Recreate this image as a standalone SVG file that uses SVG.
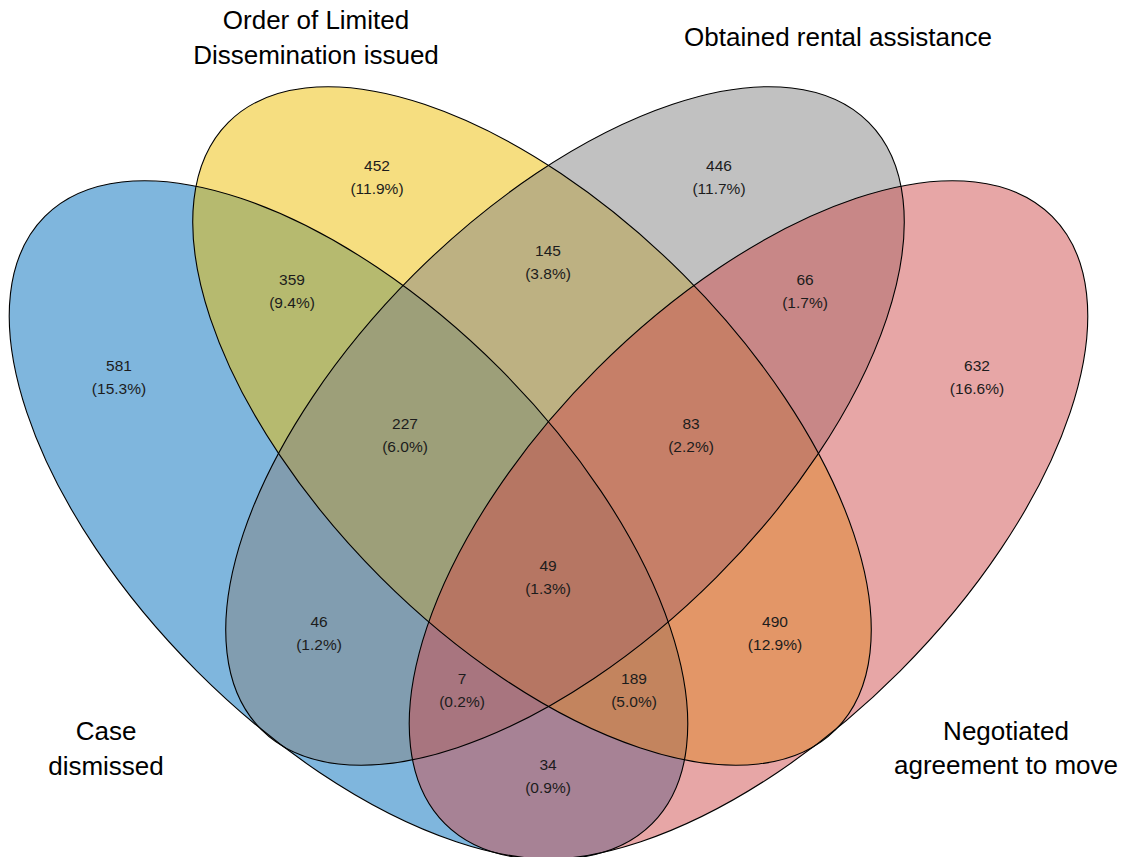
<svg xmlns="http://www.w3.org/2000/svg" width="1129" height="857" viewBox="0 0 1129 857">
<style>
.fill{fill-opacity:0.5;stroke:none}
.edge{fill:none;stroke:#000;stroke-width:1.1}
.t{font-family:"Liberation Sans",Arial,Helvetica,sans-serif;fill:#000;text-anchor:middle}
.lab{font-size:26px}
.num{font-size:15.5px;fill:#1c1c1c}
</style>
<rect width="1129" height="857" fill="#fff"/>
<g id="sets">
<g id="case-dismissed">
<ellipse class="fill" cx="348.5" cy="520" rx="429.4" ry="214" transform="rotate(45 348.5 520)" fill="#006DBB"/>
</g>
<g id="order-limited">
<ellipse class="fill" cx="532" cy="426" rx="429.4" ry="214" transform="rotate(45 532 426)" fill="#EDBD01"/>
</g>
<g id="rental-assistance">
<ellipse class="fill" cx="565" cy="426" rx="429.4" ry="214" transform="rotate(-45 565 426)" fill="#838383"/>
</g>
<g id="negotiated-move">
<ellipse class="fill" cx="748.5" cy="520" rx="429.4" ry="214" transform="rotate(-45 748.5 520)" fill="#CF4D4D"/>
</g>
</g>
<g id="outlines">
<ellipse class="edge" cx="348.5" cy="520" rx="429.4" ry="214" transform="rotate(45 348.5 520)"/>
<ellipse class="edge" cx="532" cy="426" rx="429.4" ry="214" transform="rotate(45 532 426)"/>
<ellipse class="edge" cx="565" cy="426" rx="429.4" ry="214" transform="rotate(-45 565 426)"/>
<ellipse class="edge" cx="748.5" cy="520" rx="429.4" ry="214" transform="rotate(-45 748.5 520)"/>
</g>
<g id="set-labels">
<text class="t lab" x="316" y="29">Order of Limited</text>
<text class="t lab" x="316" y="64">Dissemination issued</text>
<text class="t lab" x="838" y="46">Obtained rental assistance</text>
<text class="t lab" x="106" y="740">Case</text>
<text class="t lab" x="106" y="775">dismissed</text>
<text class="t lab" x="1006" y="740">Negotiated</text>
<text class="t lab" x="1006" y="774">agreement to move</text>
</g>
<g id="counts">
<text class="t num" x="377" y="171">452</text><text class="t num" x="377" y="194">(11.9%)</text>
<text class="t num" x="719" y="171">446</text><text class="t num" x="719" y="194">(11.7%)</text>
<text class="t num" x="292" y="285">359</text><text class="t num" x="292" y="308">(9.4%)</text>
<text class="t num" x="548" y="256">145</text><text class="t num" x="548" y="279">(3.8%)</text>
<text class="t num" x="805" y="285">66</text><text class="t num" x="805" y="308">(1.7%)</text>
<text class="t num" x="119" y="371">581</text><text class="t num" x="119" y="394">(15.3%)</text>
<text class="t num" x="977" y="371">632</text><text class="t num" x="977" y="394">(16.6%)</text>
<text class="t num" x="405" y="429">227</text><text class="t num" x="405" y="452">(6.0%)</text>
<text class="t num" x="691" y="429">83</text><text class="t num" x="691" y="452">(2.2%)</text>
<text class="t num" x="548" y="571">49</text><text class="t num" x="548" y="594">(1.3%)</text>
<text class="t num" x="319" y="627">46</text><text class="t num" x="319" y="650">(1.2%)</text>
<text class="t num" x="775" y="627">490</text><text class="t num" x="775" y="650">(12.9%)</text>
<text class="t num" x="462" y="684">7</text><text class="t num" x="462" y="707">(0.2%)</text>
<text class="t num" x="634" y="684">189</text><text class="t num" x="634" y="707">(5.0%)</text>
<text class="t num" x="548" y="770">34</text><text class="t num" x="548" y="793">(0.9%)</text>
</g>
</svg>
